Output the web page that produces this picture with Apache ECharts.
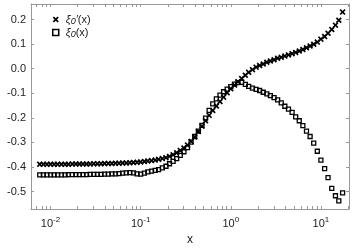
<!DOCTYPE html>
<html><head><meta charset="utf-8">
<script src="https://cdn.jsdelivr.net/npm/echarts@6/dist/echarts.min.js"></script>
<style>html,body{margin:0;padding:0;background:#fff}#c{width:354px;height:251px}</style>
</head><body><div id="c"></div>
<script>
const xValues = [0.00759,0.00832,0.00912,0.0100,0.01096,0.0120,0.0132,0.0145,0.0158,0.0174,
0.0191,0.0209,0.0229,0.0251,0.0275,0.0302,0.0331,0.0363,0.0398,0.0437,
0.0479,0.0525,0.0575,0.0631,0.0692,0.0759,0.0832,0.0912,0.100,0.110,
0.120,0.132,0.145,0.158,0.174,0.191,0.209,0.229,0.251,0.275,
0.302,0.331,0.363,0.398,0.437,0.479,0.525,0.575,0.631,0.692,
0.759,0.832,0.912,1.00,1.10,1.20,1.32,1.45,1.58,1.74,
1.91,2.09,2.29,2.51,2.75,3.02,3.31,3.63,3.98,4.37,
4.79,5.25,5.75,6.31,6.92,7.59,8.32,9.12,10.0,11.0,
12.0,13.2,14.5,15.8,17.4];
const xiPrime = [-0.389,-0.389,-0.389,-0.389,-0.389,-0.389,-0.389,-0.389,-0.389,-0.388,
-0.388,-0.388,-0.388,-0.388,-0.388,-0.387,-0.387,-0.387,-0.386,-0.386,
-0.386,-0.385,-0.385,-0.384,-0.384,-0.383,-0.382,-0.381,-0.380,-0.378,
-0.376,-0.374,-0.372,-0.369,-0.366,-0.362,-0.357,-0.350,-0.342,-0.333,
-0.323,-0.311,-0.296,-0.278,-0.256,-0.234,-0.212,-0.190,-0.170,-0.152,
-0.134,-0.116,-0.098,-0.082,-0.067,-0.053,-0.040,-0.027,-0.015,-0.004,
0.006,0.013,0.019,0.026,0.031,0.036,0.042,0.046,0.051,0.056,
0.061,0.066,0.072,0.078,0.085,0.092,0.099,0.108,0.120,0.131,
0.144,0.159,0.177,0.197,0.230];
const xi = [-0.432,-0.432,-0.432,-0.432,-0.432,-0.432,-0.432,-0.432,-0.431,-0.431,
-0.431,-0.431,-0.431,-0.431,-0.430,-0.430,-0.430,-0.430,-0.429,-0.429,
-0.428,-0.428,-0.427,-0.425,-0.424,-0.423,-0.424,-0.428,-0.429,-0.425,
-0.420,-0.417,-0.414,-0.411,-0.404,-0.397,-0.387,-0.377,-0.366,-0.353,
-0.338,-0.321,-0.299,-0.276,-0.254,-0.231,-0.201,-0.170,-0.143,-0.123,
-0.108,-0.094,-0.083,-0.073,-0.063,-0.057,-0.056,-0.064,-0.072,-0.079,
-0.084,-0.089,-0.096,-0.103,-0.110,-0.118,-0.127,-0.139,-0.153,-0.165,
-0.178,-0.196,-0.212,-0.232,-0.254,-0.276,-0.303,-0.336,-0.372,-0.407,
-0.443,-0.487,-0.517,-0.538,-0.505];
const xLabelValues = [0.01, 0.1, 1, 10];
const xTickValues = [0.007,0.008,0.009,0.01,0.02,0.03,0.04,0.05,0.06,0.07,0.08,0.09,
0.1,0.2,0.3,0.4,0.5,0.6,0.7,0.8,0.9,1,2,3,4,5,6,7,8,9,10,20];
const yTickValues = [-0.5,-0.4,-0.3,-0.2,-0.1,0.0,0.1,0.2];
const seriesNames = ['ξ0′(x)', 'ξ0(x)'];

const X_MIN = 0.00607, X_MAX = 20.5, Y_MIN = -0.571, Y_MAX = 0.263;
const axisColor = '#999';
const textColor = '#222';
const crossPath = 'path://M0,2L2,0L5,3L8,0L10,2L7,5L10,8L8,10L5,7L2,10L0,8L3,5Z';

function xAxisCfg(pos, showLabel) {
  return {
    type: 'log', logBase: 10, position: pos, min: X_MIN, max: X_MAX,
    name: showLabel ? 'x' : '', nameLocation: 'middle', nameGap: 25,
    nameTextStyle: {fontFamily: 'Liberation Sans', fontSize: 12, color: textColor},
    axisLine: {show: true, onZero: false, lineStyle: {color: axisColor, width: 1}},
    axisTick: {show: true, inside: true, length: 3, customValues: xTickValues, lineStyle: {color: axisColor}},
    minorTick: {show: false},
    splitLine: {show: false},
    axisLabel: {
      show: showLabel, customValues: xLabelValues, margin: 7,
      formatter: function (v) { return '{b|10}{s|' + Math.round(Math.log10(v)) + '}'; },
      rich: {
        b: {fontFamily: 'Liberation Sans', fontSize: 11, color: textColor},
        s: {fontFamily: 'Liberation Sans', fontSize: 8, color: textColor, verticalAlign: 'bottom', padding: [0, 0, 7, 0]}
      }
    }
  };
}
function yAxisCfg(pos, showLabel) {
  return {
    type: 'value', position: pos, min: Y_MIN, max: Y_MAX,
    axisLine: {show: true, onZero: false, lineStyle: {color: axisColor, width: 1}},
    axisTick: {show: true, inside: true, length: 3, customValues: yTickValues, lineStyle: {color: axisColor}},
    splitLine: {show: false},
    axisLabel: {
      show: showLabel, customValues: yTickValues, margin: 5,
      fontFamily: 'Liberation Sans', fontSize: 11, color: textColor,
      formatter: function (v) { return v.toFixed(1); }
    }
  };
}

const chart = echarts.init(document.getElementById('c'), null, {renderer: 'canvas'});
chart.setOption({
  animation: false,
  backgroundColor: '#fff',
  grid: {left: 31, right: 5, top: 4, bottom: 36, containLabel: false},
  xAxis: [xAxisCfg('bottom', true), xAxisCfg('top', false)],
  yAxis: [yAxisCfg('left', true), yAxisCfg('right', false)],
  legend: {
    orient: 'vertical', left: 47, top: 8, itemGap: 0, itemWidth: 6, itemHeight: 6,
    data: [
      {name: seriesNames[0], icon: crossPath, itemStyle: {color: '#000', borderWidth: 0}},
      {name: seriesNames[1], icon: 'rect', itemStyle: {color: '#fff', borderColor: '#000', borderWidth: 1.5}}
    ],
    formatter: function (n) {
      return n === seriesNames[0] ? '{i|ξ}{sb|0}{i|′}{n|(x)}' : '{i|ξ}{sb|0}{n|(x)}';
    },
    textStyle: {
      fontFamily: 'Liberation Sans', fontSize: 11, color: textColor, lineHeight: 13, padding: [0, 0, 0, 2],
      rich: {
        i: {fontFamily: 'Liberation Sans', fontStyle: 'italic', fontSize: 11, lineHeight: 13, color: textColor},
        sb: {fontFamily: 'Liberation Sans', fontStyle: 'italic', fontSize: 9, lineHeight: 13, color: textColor, padding: [3, 0, 0, 0]},
        n: {fontFamily: 'Liberation Sans', fontSize: 11, lineHeight: 13, color: textColor}
      }
    }
  },
  series: [
    {
      name: seriesNames[0], type: 'scatter', xAxisIndex: 0, yAxisIndex: 0,
      data: xValues.map((x, i) => [x, xiPrime[i]]),
      symbol: crossPath, symbolSize: 6,
      itemStyle: {color: '#000', opacity: 1}
    },
    {
      name: seriesNames[1], type: 'scatter', xAxisIndex: 0, yAxisIndex: 0,
      data: xValues.map((x, i) => [x, xi[i]]),
      symbol: 'rect', symbolSize: 4,
      itemStyle: {color: 'rgba(255,255,255,0)', borderColor: '#000', borderWidth: 1.3, opacity: 1}
    }
  ]
});
</script></body></html>
